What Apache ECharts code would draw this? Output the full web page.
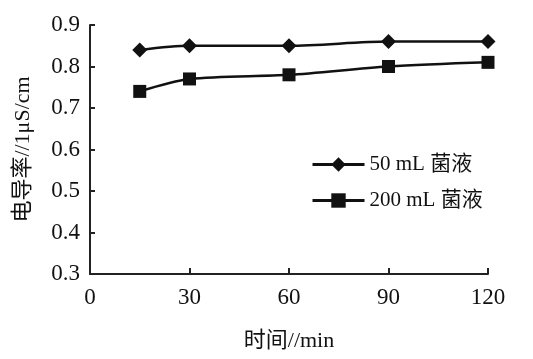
<!DOCTYPE html>
<html><head><meta charset="utf-8">
<script src="https://cdn.jsdelivr.net/npm/echarts@6/dist/echarts.min.js"></script>
<style>html,body{margin:0;padding:0;background:#fff}#c{width:533px;height:359px}</style>
</head><body><div id="c"></div>
<script>
const times = [15, 30, 60, 90, 120];
const series50 = [0.84, 0.85, 0.85, 0.86, 0.86];
const series200 = [0.74, 0.77, 0.78, 0.80, 0.81];
const seriesNames = ['50 mL 菌液', '200 mL 菌液'];
const xTicks = [0, 30, 60, 90, 120];
const yTicks = [0.3, 0.4, 0.5, 0.6, 0.7, 0.8, 0.9];
const xTitle = '时间//min';
const yTitle = '电导率//1μS/cm';

const FONT = '"Liberation Serif", "Noto Sans CJK SC", serif';
const chart = echarts.init(document.getElementById('c'));
chart.setOption({
  animation: false,
  backgroundColor: '#fff',
  textStyle: { fontFamily: FONT, color: '#111' },
  grid: { left: 90, top: 25, right: 45, bottom: 85 },
  legend: {
    orient: 'vertical', left: 306, top: 149, itemWidth: 52, itemHeight: 18, itemGap: 15,
    lineStyle: { width: 3 },
    textStyle: { fontFamily: FONT, fontSize: 21, color: '#111' },
    data: seriesNames
  },
  xAxis: {
    type: 'value', min: xTicks[0], max: xTicks[xTicks.length - 1], interval: 30,
    splitLine: { show: false },
    axisLine: { lineStyle: { color: '#222', width: 2 } },
    axisTick: { inside: true, length: 6, lineStyle: { color: '#222', width: 2 } },
    axisLabel: { fontFamily: FONT, fontSize: 23, color: '#111', margin: 12 },
    name: xTitle, nameLocation: 'middle', nameGap: 56,
    nameTextStyle: { fontFamily: FONT, fontSize: 22, color: '#111' }
  },
  yAxis: {
    type: 'value', min: yTicks[0], max: yTicks[yTicks.length - 1], interval: 0.1,
    splitLine: { show: false },
    axisLine: { show: true, lineStyle: { color: '#222', width: 2 } },
    axisTick: { show: true, inside: true, length: 5, lineStyle: { color: '#222', width: 2 } },
    axisLabel: { fontFamily: FONT, fontSize: 23, color: '#111', margin: 10,
      formatter: v => v.toFixed(1) },
    name: yTitle, nameLocation: 'middle', nameGap: 56, nameRotate: 90,
    nameTextStyle: { fontFamily: FONT, fontSize: 22, color: '#111' }
  },
  series: [
    { name: seriesNames[0], type: 'line', smooth: 0.3, symbol: 'diamond', symbolSize: 15,
      data: times.map((t, i) => [t, series50[i]]),
      lineStyle: { color: '#111', width: 2.5 }, itemStyle: { color: '#111' } },
    { name: seriesNames[1], type: 'line', smooth: 0.3, symbol: 'rect', symbolSize: 13,
      data: times.map((t, i) => [t, series200[i]]),
      lineStyle: { color: '#111', width: 2.5 }, itemStyle: { color: '#111' } }
  ]
});
</script></body></html>
